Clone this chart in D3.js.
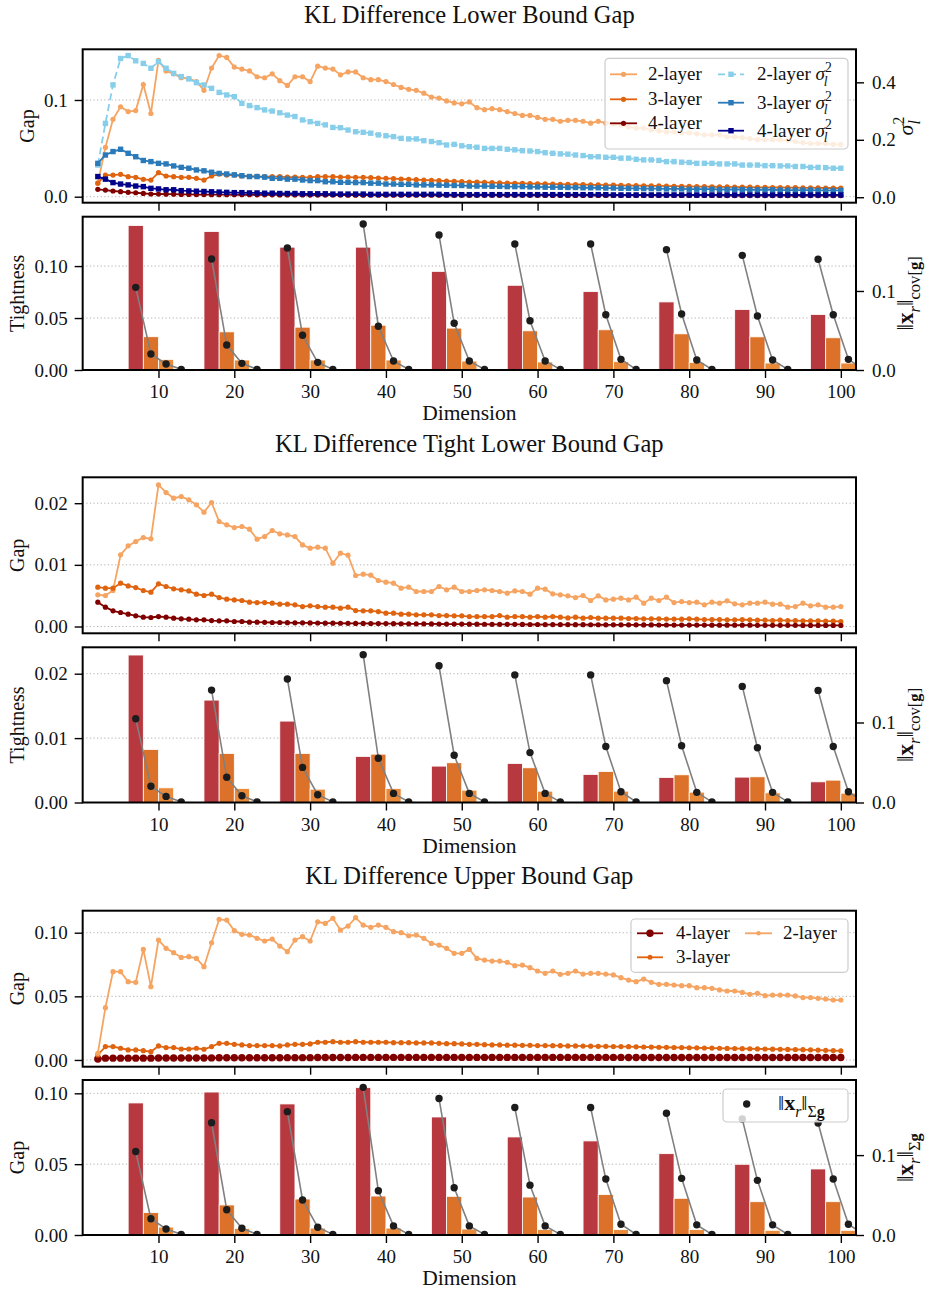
<!DOCTYPE html>
<html>
<head>
<meta charset="utf-8">
<script src="https://cdn.jsdelivr.net/npm/d3@7"></script>
<style>
  body { margin: 0; background: #fff; }
  svg { display: block; }
</style>
</head>
<body>
<div id="chart"></div>
<script>
// ---- data ----
const dims = d3.range(2, 101); // dimensions 2..100
const xTicks = [10, 20, 30, 40, 50, 60, 70, 80, 90, 100];
const barGroups = [10, 20, 30, 40, 50, 60, 70, 80, 90, 100];
const barOffsets = [-3, -1, 1, 3];

// Lower bound gap (rows = dims 2-11, 12-21, ... , 92-100)
const lbGap2 = [
  0.014,0.051,0.080,0.093,0.088,0.089,0.116,0.086,0.141,0.130,
  0.127,0.123,0.122,0.119,0.110,0.133,0.146,0.144,0.134,0.132,
  0.130,0.124,0.123,0.127,0.120,0.115,0.124,0.124,0.119,0.135,
  0.133,0.132,0.126,0.129,0.129,0.123,0.121,0.121,0.119,0.116,
  0.113,0.111,0.110,0.107,0.103,0.102,0.099,0.097,0.096,0.098,
  0.092,0.090,0.091,0.090,0.088,0.086,0.084,0.084,0.082,0.080,
  0.080,0.078,0.079,0.079,0.078,0.076,0.078,0.076,0.075,0.074,
  0.072,0.071,0.071,0.069,0.068,0.067,0.067,0.066,0.066,0.065,
  0.064,0.064,0.064,0.062,0.062,0.061,0.060,0.059,0.059,0.059,
  0.059,0.058,0.057,0.056,0.055,0.055,0.055,0.054,0.054];
const lbGap3 = [
  0.0140,0.0224,0.0224,0.0231,0.0207,0.0200,0.0180,0.0172,0.0248,0.0214,
  0.0207,0.0200,0.0200,0.0190,0.0172,0.0214,0.0234,0.0224,0.0224,0.0214,
  0.0210,0.0210,0.0207,0.0207,0.0207,0.0203,0.0203,0.0200,0.0200,0.0207,
  0.0207,0.0207,0.0203,0.0203,0.0200,0.0200,0.0197,0.0193,0.0190,0.0186,
  0.0183,0.0180,0.0176,0.0172,0.0170,0.0166,0.0162,0.0160,0.0155,0.0152,
  0.0150,0.0148,0.0145,0.0143,0.0141,0.0139,0.0138,0.0136,0.0134,0.0132,
  0.0131,0.0129,0.0128,0.0126,0.0125,0.0123,0.0122,0.0120,0.0119,0.0118,
  0.0116,0.0115,0.0113,0.0112,0.0111,0.0110,0.0108,0.0107,0.0106,0.0105,
  0.0104,0.0103,0.0102,0.0101,0.0100,0.0099,0.0098,0.0097,0.0096,0.0095,
  0.0095,0.0094,0.0093,0.0092,0.0092,0.0091,0.0090,0.0090,0.0089];
const lbGap4 = [
  0.0076,0.0069,0.0059,0.0052,0.0045,0.0041,0.0034,0.0028,0.0028,0.0026,
  0.0026,0.0024,0.0024,0.0022,0.0022,0.0021,0.0021,0.0021,0.0020,0.0020,
  0.0020,0.0019,0.0019,0.0019,0.0018,0.0018,0.0018,0.0018,0.0017,0.0017,
  0.0017,0.0017,0.0017,0.0016,0.0016,0.0016,0.0016,0.0016,0.0016,0.0015,
  0.0015,0.0015,0.0015,0.0015,0.0015,0.0015,0.0015,0.0014,0.0014,0.0014,
  0.0014,0.0014,0.0014,0.0014,0.0014,0.0014,0.0014,0.0014,0.0014,0.0013,
  0.0013,0.0013,0.0013,0.0013,0.0013,0.0013,0.0013,0.0013,0.0013,0.0013,
  0.0013,0.0013,0.0013,0.0013,0.0013,0.0013,0.0013,0.0013,0.0013,0.0013,
  0.0013,0.0013,0.0013,0.0012,0.0012,0.0012,0.0012,0.0012,0.0012,0.0012,
  0.0012,0.0012,0.0012,0.0012,0.0012,0.0012,0.0012,0.0012,0.0012];
// sigma_l^2 (right axis)
const lbVar2 = [
  0.112,0.257,0.391,0.483,0.493,0.475,0.466,0.449,0.472,0.449,
  0.431,0.420,0.412,0.399,0.391,0.379,0.365,0.356,0.350,0.327,
  0.319,0.312,0.304,0.300,0.294,0.286,0.281,0.269,0.263,0.257,
  0.252,0.243,0.242,0.234,0.228,0.226,0.223,0.217,0.214,0.211,
  0.205,0.203,0.203,0.197,0.194,0.190,0.182,0.184,0.179,0.176,
  0.174,0.170,0.170,0.170,0.167,0.165,0.162,0.161,0.159,0.155,
  0.153,0.151,0.150,0.147,0.145,0.141,0.141,0.139,0.139,0.136,
  0.136,0.132,0.130,0.130,0.128,0.124,0.124,0.122,0.121,0.118,
  0.118,0.118,0.116,0.116,0.116,0.112,0.112,0.112,0.110,0.110,
  0.109,0.109,0.107,0.107,0.104,0.104,0.103,0.101,0.101];
const lbVar3 = [
  0.118,0.147,0.159,0.167,0.153,0.141,0.128,0.124,0.118,0.116,
  0.109,0.104,0.101,0.095,0.092,0.087,0.083,0.081,0.078,0.075,
  0.072,0.072,0.070,0.066,0.066,0.063,0.063,0.060,0.058,0.058,
  0.054,0.054,0.052,0.052,0.051,0.051,0.049,0.049,0.046,0.046,
  0.045,0.045,0.043,0.043,0.043,0.042,0.042,0.041,0.041,0.039,
  0.039,0.039,0.038,0.038,0.037,0.037,0.037,0.036,0.036,0.035,
  0.035,0.035,0.034,0.034,0.033,0.033,0.033,0.032,0.032,0.031,
  0.031,0.031,0.030,0.030,0.030,0.029,0.029,0.029,0.028,0.028,
  0.028,0.028,0.027,0.027,0.027,0.027,0.026,0.026,0.026,0.026,
  0.025,0.025,0.025,0.025,0.025,0.024,0.024,0.024,0.024];
const lbVar4 = [
  0.072,0.063,0.051,0.046,0.043,0.039,0.037,0.031,0.029,0.026,
  0.026,0.023,0.022,0.021,0.020,0.019,0.018,0.017,0.016,0.016,
  0.015,0.015,0.014,0.014,0.013,0.013,0.013,0.012,0.012,0.012,
  0.012,0.011,0.011,0.011,0.011,0.011,0.010,0.010,0.010,0.010,
  0.010,0.010,0.010,0.010,0.010,0.010,0.009,0.009,0.009,0.009,
  0.009,0.009,0.009,0.009,0.009,0.009,0.009,0.009,0.009,0.009,
  0.009,0.009,0.009,0.009,0.009,0.009,0.009,0.009,0.008,0.008,
  0.008,0.008,0.008,0.008,0.008,0.008,0.008,0.008,0.008,0.008,
  0.008,0.008,0.008,0.008,0.008,0.008,0.008,0.008,0.008,0.008,
  0.008,0.008,0.008,0.008,0.008,0.008,0.008,0.008,0.008];

// Tight lower bound gap
const tlGap2 = [
  0.00514,0.00503,0.00584,0.01162,0.01308,0.01378,0.01443,0.01422,0.02297,0.02173,
  0.02081,0.02108,0.02054,0.01973,0.01854,0.02011,0.01703,0.01649,0.01605,0.01622,
  0.01578,0.01416,0.01459,0.01557,0.01503,0.01486,0.01459,0.01324,0.01270,0.01286,
  0.01270,0.01027,0.01189,0.01157,0.00827,0.00849,0.00832,0.00746,0.00719,0.00703,
  0.00622,0.00638,0.00568,0.00568,0.00568,0.00649,0.00595,0.00638,0.00568,0.00568,
  0.00584,0.00595,0.00584,0.00568,0.00541,0.00578,0.00568,0.00524,0.00622,0.00605,
  0.00530,0.00514,0.00497,0.00470,0.00503,0.00422,0.00497,0.00432,0.00443,0.00459,
  0.00432,0.00476,0.00378,0.00459,0.00422,0.00476,0.00389,0.00405,0.00389,0.00395,
  0.00351,0.00395,0.00378,0.00416,0.00368,0.00351,0.00378,0.00378,0.00395,0.00362,
  0.00362,0.00314,0.00324,0.00378,0.00335,0.00351,0.00314,0.00314,0.00324];
const tlGap3 = [
  0.00638,0.00622,0.00622,0.00703,0.00659,0.00632,0.00584,0.00557,0.00692,0.00649,
  0.00611,0.00595,0.00578,0.00524,0.00503,0.00524,0.00470,0.00443,0.00432,0.00422,
  0.00395,0.00389,0.00389,0.00378,0.00362,0.00362,0.00351,0.00324,0.00335,0.00324,
  0.00314,0.00314,0.00297,0.00314,0.00259,0.00254,0.00254,0.00243,0.00216,0.00216,
  0.00200,0.00200,0.00189,0.00189,0.00189,0.00178,0.00178,0.00173,0.00173,0.00162,
  0.00162,0.00162,0.00162,0.00178,0.00151,0.00162,0.00162,0.00151,0.00162,0.00151,
  0.00162,0.00151,0.00140,0.00151,0.00135,0.00146,0.00135,0.00135,0.00135,0.00135,
  0.00130,0.00130,0.00124,0.00124,0.00124,0.00120,0.00120,0.00119,0.00124,0.00119,
  0.00113,0.00113,0.00113,0.00108,0.00108,0.00113,0.00108,0.00103,0.00103,0.00097,
  0.00103,0.00097,0.00097,0.00092,0.00092,0.00092,0.00086,0.00086,0.00081];
const tlGap4 = [
  0.00395,0.00314,0.00254,0.00227,0.00200,0.00173,0.00151,0.00146,0.00162,0.00151,
  0.00135,0.00124,0.00119,0.00108,0.00108,0.00097,0.00092,0.00092,0.00081,0.00081,
  0.00070,0.00070,0.00068,0.00065,0.00065,0.00062,0.00060,0.00060,0.00058,0.00057,
  0.00055,0.00054,0.00053,0.00052,0.00050,0.00050,0.00049,0.00048,0.00047,0.00046,
  0.00045,0.00044,0.00043,0.00043,0.00042,0.00041,0.00040,0.00040,0.00039,0.00038,
  0.00038,0.00037,0.00036,0.00036,0.00035,0.00035,0.00034,0.00033,0.00033,0.00032,
  0.00032,0.00031,0.00031,0.00030,0.00030,0.00029,0.00029,0.00028,0.00028,0.00027,
  0.00027,0.00027,0.00026,0.00026,0.00025,0.00025,0.00024,0.00024,0.00024,0.00023,
  0.00023,0.00022,0.00022,0.00022,0.00021,0.00021,0.00021,0.00020,0.00020,0.00020,
  0.00019,0.00019,0.00019,0.00018,0.00018,0.00018,0.00017,0.00017,0.00017];

// Upper bound gap
const ubGap2 = [
  0.0052,0.0411,0.0694,0.0694,0.0615,0.0610,0.0869,0.0576,0.0942,0.0877,
  0.0843,0.0806,0.0812,0.0798,0.0733,0.0921,0.1105,0.1099,0.1016,0.0987,
  0.0982,0.0956,0.0935,0.0950,0.0895,0.0851,0.0942,0.0969,0.0935,0.1086,
  0.1073,0.1113,0.1021,0.1052,0.1118,0.1060,0.1042,0.1060,0.1042,0.1008,
  0.1000,0.0976,0.0982,0.0956,0.0916,0.0903,0.0877,0.0838,0.0838,0.0869,
  0.0798,0.0785,0.0777,0.0777,0.0767,0.0741,0.0746,0.0725,0.0699,0.0681,
  0.0699,0.0673,0.0681,0.0699,0.0675,0.0681,0.0681,0.0675,0.0668,0.0647,
  0.0628,0.0615,0.0636,0.0610,0.0594,0.0594,0.0589,0.0584,0.0584,0.0568,
  0.0568,0.0563,0.0550,0.0542,0.0542,0.0531,0.0516,0.0524,0.0505,0.0510,
  0.0510,0.0510,0.0503,0.0490,0.0490,0.0484,0.0479,0.0471,0.0471];
const ubGap3 = [
  0.0039,0.0105,0.0105,0.0092,0.0079,0.0079,0.0073,0.0065,0.0110,0.0097,
  0.0097,0.0086,0.0086,0.0092,0.0084,0.0105,0.0131,0.0131,0.0123,0.0118,
  0.0113,0.0113,0.0113,0.0113,0.0110,0.0118,0.0123,0.0123,0.0126,0.0139,
  0.0139,0.0144,0.0139,0.0139,0.0144,0.0139,0.0139,0.0139,0.0139,0.0136,
  0.0136,0.0136,0.0134,0.0134,0.0134,0.0131,0.0128,0.0128,0.0126,0.0123,
  0.0123,0.0120,0.0118,0.0118,0.0116,0.0116,0.0115,0.0115,0.0113,0.0113,
  0.0112,0.0112,0.0110,0.0110,0.0109,0.0108,0.0107,0.0107,0.0105,0.0105,
  0.0104,0.0103,0.0102,0.0101,0.0100,0.0099,0.0098,0.0097,0.0096,0.0095,
  0.0094,0.0093,0.0092,0.0091,0.0090,0.0089,0.0088,0.0087,0.0086,0.0085,
  0.0084,0.0083,0.0082,0.0081,0.0080,0.0078,0.0076,0.0074,0.0072];
const ubGap4 = [
  0.0008,0.0014,0.0014,0.0014,0.0014,0.0014,0.0014,0.0014,0.0015,0.0015,
  0.0015,0.0015,0.0015,0.0015,0.0015,0.0016,0.0017,0.0017,0.0017,0.0017,
  0.0017,0.0017,0.0017,0.0017,0.0017,0.0018,0.0018,0.0018,0.0018,0.0019,
  0.0019,0.0019,0.0019,0.0019,0.0020,0.0020,0.0020,0.0020,0.0020,0.0020,
  0.0020,0.0020,0.0020,0.0020,0.0020,0.0020,0.0020,0.0020,0.0020,0.0020,
  0.0020,0.0020,0.0020,0.0020,0.0020,0.0020,0.0020,0.0020,0.0020,0.0020,
  0.0020,0.0020,0.0020,0.0020,0.0020,0.0020,0.0020,0.0020,0.0020,0.0020,
  0.0019,0.0019,0.0019,0.0019,0.0019,0.0019,0.0019,0.0019,0.0019,0.0019,
  0.0019,0.0019,0.0019,0.0019,0.0019,0.0019,0.0019,0.0019,0.0019,0.0019,
  0.0019,0.0019,0.0019,0.0019,0.0019,0.0019,0.0019,0.0019,0.0019];

// Tightness bars, one array per component (offset -3, -1, +1, +3 around each group)
const lbBars = [
  [0.1390,0.1332,0.1182,0.1182,0.0949,0.0815,0.0754,0.0655,0.0581,0.0534],
  [0.0320,0.0367,0.0412,0.0431,0.0403,0.0377,0.0387,0.0348,0.0319,0.0310],
  [0.0102,0.0096,0.0096,0.0096,0.0086,0.0077,0.0080,0.0073,0.0067,0.0067],
  [0.0008,0.0007,0.0007,0.0007,0.0006,0.0006,0.0006,0.0005,0.0005,0.0005]];
const tlBars = [
  [0.02290,0.01590,0.01264,0.00715,0.00565,0.00606,0.00435,0.00389,0.00394,0.00321],
  [0.00824,0.00762,0.00762,0.00751,0.00617,0.00539,0.00482,0.00430,0.00399,0.00347],
  [0.00228,0.00218,0.00207,0.00218,0.00192,0.00176,0.00176,0.00161,0.00150,0.00145],
  [0.00012,0.00010,0.00010,0.00010,0.00009,0.00009,0.00008,0.00008,0.00008,0.00007]];
const ubBars = [
  [0.0932,0.1009,0.0925,0.1040,0.0833,0.0692,0.0664,0.0574,0.0499,0.0466],
  [0.0158,0.0212,0.0254,0.0275,0.0273,0.0268,0.0285,0.0259,0.0235,0.0235],
  [0.0056,0.0047,0.0049,0.0049,0.0042,0.0038,0.0038,0.0038,0.0033,0.0033],
  [0.0005,0.0005,0.0005,0.0005,0.0004,0.0004,0.0004,0.0004,0.0004,0.0004]];
// ||x_r|| norms (right axis of bar panels)
const normDots = [
  [0.1046,0.1405,0.1544,0.1848,0.1709,0.1595,0.1595,0.1523,0.1451,0.1401],
  [0.0203,0.0316,0.0439,0.0553,0.0591,0.0624,0.0700,0.0709,0.0684,0.0700],
  [0.0076,0.0084,0.0097,0.0114,0.0114,0.0114,0.0135,0.0127,0.0127,0.0135],
  [0.0008,0.0008,0.0008,0.0008,0.0008,0.0008,0.0008,0.0008,0.0008,0.0008]];

// ---- styles ----
const FONT = "'Liberation Serif', 'Times New Roman', serif";
const C2 = "#f5a462", C3 = "#e0640f", C4 = "#800000";
const V2 = "#87ceeb", V3 = "#2a7ab9", V4 = "#00008b";
const barColors = ["#b8383f", "#dc7229", "#e88a3a", "#f0a862"];

const W = 929, H = 1294;
const x = d3.scaleLinear().domain([0, 102]).range([82.67, 856]);
const X0 = x.range()[0], X1 = x.range()[1];

const svg = d3.select("#chart").append("svg")
  .attr("width", W).attr("height", H)
  .style("font-family", FONT);

// math-ish labels made of tspans
const SIGMA = [{t:"σ",it:1},{t:"2",sup:1},{t:"l",it:1,sub:1,dx:-8}];
const NORM_COV = [{t:"‖"},{t:"x",bf:1},{t:"r",it:1,sub:1},{t:"‖"},{t:"cov[",sub:1},{t:"g",bf:1,sub:1},{t:"]",sub:1}];
const NORM_SIG = [{t:"‖"},{t:"x",bf:1},{t:"r",it:1,sub:1},{t:"‖"},{t:"Σ",sub:1},{t:"g",bf:1,sub:1}];

function mathText(sel, parts, size) {
  let shift = 0;
  parts.forEach(p => {
    const s = p.sub ? size * 0.3 : p.sup ? -size * 0.42 : 0;
    const ts = sel.append("tspan").text(p.t)
      .attr("font-size", (p.sub || p.sup) ? size * 0.72 : size)
      .attr("dy", s - shift);
    if (p.it) ts.attr("font-style", "italic");
    if (p.bf) ts.attr("font-weight", "bold");
    if (p.dx) ts.attr("dx", p.dx);
    shift = s;
  });
}

let clipId = 0;
function makeClip(top, bottom) {
  const id = "clip" + (clipId++);
  svg.append("clipPath").attr("id", id).append("rect")
    .attr("x", X0).attr("y", top).attr("width", X1 - X0).attr("height", bottom - top);
  return "url(#" + id + ")";
}

function styleAxis(g) {
  g.attr("font-family", FONT).attr("font-size", 19);
  g.select(".domain").remove();
  g.selectAll(".tick line").attr("stroke", "#000").attr("stroke-width", 1.4);
  g.selectAll(".tick text").attr("fill", "#111");
}

function grid(top, bottom, y, ticks) {
  svg.append("g").selectAll("line").data(ticks).join("line")
    .attr("x1", X0).attr("x2", X1)
    .attr("y1", d => y(d)).attr("y2", d => y(d))
    .attr("stroke", "#b0b0b0").attr("stroke-width", 1)
    .attr("stroke-dasharray", "1.2,2.4");
}

function frame(top, bottom) {
  svg.append("rect").attr("x", X0).attr("y", top)
    .attr("width", X1 - X0).attr("height", bottom - top)
    .attr("fill", "none").attr("stroke", "#000").attr("stroke-width", 2);
}

function xAxis(bottom, labels) {
  svg.append("g").attr("transform", `translate(0,${bottom})`)
    .call(d3.axisBottom(x).tickValues(xTicks).tickSize(8).tickPadding(7)
      .tickFormat(labels ? d3.format("d") : () => ""))
    .call(styleAxis);
}

function leftAxis(y, ticks, fmt) {
  svg.append("g").attr("transform", `translate(${X0},0)`)
    .call(d3.axisLeft(y).tickValues(ticks).tickSize(8).tickPadding(7).tickFormat(d3.format(fmt)))
    .call(styleAxis);
}

function rightAxis(y, ticks, fmt) {
  svg.append("g").attr("transform", `translate(${X1},0)`)
    .call(d3.axisRight(y).tickValues(ticks).tickSize(8).tickPadding(8).tickFormat(d3.format(fmt)))
    .call(styleAxis);
}

function yLabel(xPos, cy, content, size) {
  const t = svg.append("text")
    .attr("transform", `translate(${xPos},${cy}) rotate(-90)`)
    .attr("text-anchor", "middle").attr("font-size", size || 20).attr("fill", "#111");
  if (typeof content === "string") t.text(content);
  else mathText(t, content, size || 20);
}

function drawSeries(g, s, y) {
  const line = d3.line().x((d, i) => x(dims[i])).y(d => y(d));
  const sg = g.append("g");
  sg.append("path").datum(s.values).attr("d", line)
    .attr("fill", "none").attr("stroke", s.color).attr("stroke-width", 1.8)
    .attr("stroke-dasharray", s.dash || null);
  if (s.marker === "square") {
    sg.selectAll("rect").data(s.values).join("rect")
      .attr("x", (d, i) => x(dims[i]) - 2.7).attr("y", d => y(d) - 2.7)
      .attr("width", 5.4).attr("height", 5.4).attr("fill", s.color);
  } else {
    sg.selectAll("circle").data(s.values).join("circle")
      .attr("cx", (d, i) => x(dims[i])).attr("cy", d => y(d))
      .attr("r", s.r || 2.6).attr("fill", s.color);
  }
}

function legendHandle(g, x0, x1, yc, s) {
  g.append("line").attr("x1", x0).attr("x2", x1).attr("y1", yc).attr("y2", yc)
    .attr("stroke", s.color).attr("stroke-width", 1.8).attr("stroke-dasharray", s.dash || null);
  const xm = (x0 + x1) / 2;
  if (s.marker === "square") {
    g.append("rect").attr("x", xm - 2.7).attr("y", yc - 2.7).attr("width", 5.4).attr("height", 5.4).attr("fill", s.color);
  } else {
    g.append("circle").attr("cx", xm).attr("cy", yc).attr("r", s.lr || 2.6).attr("fill", s.color);
  }
}

function legendBox(x0, y0, x1, y1) {
  const g = svg.append("g");
  g.append("rect").attr("x", x0).attr("y", y0).attr("width", x1 - x0).attr("height", y1 - y0)
    .attr("rx", 4).attr("fill", "#fff").attr("fill-opacity", 0.8)
    .attr("stroke", "#cccccc").attr("stroke-width", 1.2);
  return g;
}

function legendText(g, xPos, yc, label, parts) {
  const t = g.append("text").attr("x", xPos).attr("y", yc + 6).attr("font-size", 19).attr("fill", "#111").text(label);
  if (parts) mathText(t, parts, 19);
}

// ---- panels ----
function linePanel(p) {
  const y = d3.scaleLinear().domain(p.dom).range([p.bottom, p.top]);
  grid(p.top, p.bottom, y, p.ticks);
  const g = svg.append("g").attr("clip-path", makeClip(p.top, p.bottom));
  p.series.forEach(s => drawSeries(g, s, y));
  if (p.right) {
    const yR = d3.scaleLinear().domain(p.right.dom).range([p.bottom, p.top]);
    p.right.series.forEach(s => drawSeries(g, s, yR));
    rightAxis(yR, p.right.ticks, ".1f");
    yLabel(p.right.labelX, (p.top + p.bottom) / 2, SIGMA, 22);
  }
  xAxis(p.bottom, false);
  leftAxis(y, p.ticks, p.fmt);
  frame(p.top, p.bottom);
  yLabel(p.labelX, (p.top + p.bottom) / 2, p.label);
  svg.append("text").attr("x", (X0 + X1) / 2).attr("y", p.titleY)
    .attr("text-anchor", "middle").attr("font-size", 24.5).attr("fill", "#111").text(p.title);
}

function barPanel(p) {
  const y = d3.scaleLinear().domain(p.dom).range([p.bottom, p.top]);
  const yR = d3.scaleLinear().domain([0, 0.194]).range([p.bottom, p.top]);
  grid(p.top, p.bottom, y, p.ticks);
  const g = svg.append("g").attr("clip-path", makeClip(p.top, p.bottom));
  const bw = x(2) - x(0);
  p.bars.forEach((vals, k) => {
    g.append("g").selectAll("rect").data(vals).join("rect")
      .attr("x", (d, i) => x(barGroups[i] + barOffsets[k] - 1))
      .attr("y", d => y(d))
      .attr("width", bw)
      .attr("height", d => p.bottom - y(d))
      .attr("fill", barColors[k])
      .attr("stroke", "#fff").attr("stroke-width", 0.8);
  });
  const dotLine = d3.line().x(d => x(d[0])).y(d => yR(d[1]));
  barGroups.forEach((gd, i) => {
    const pts = barOffsets.map((o, k) => [gd + o, normDots[k][i]]);
    g.append("path").datum(pts).attr("d", dotLine)
      .attr("fill", "none").attr("stroke", "#808080").attr("stroke-width", 1.6);
    g.selectAll(null).data(pts).join("circle")
      .attr("cx", d => x(d[0])).attr("cy", d => yR(d[1]))
      .attr("r", 3.7).attr("fill", "#1c1c1c");
  });
  xAxis(p.bottom, true);
  leftAxis(y, p.ticks, p.fmt);
  rightAxis(yR, [0, 0.1], ".1f");
  frame(p.top, p.bottom);
  yLabel(24, (p.top + p.bottom) / 2, p.label);
  yLabel(913, (p.top + p.bottom) / 2, p.rlabel, 23);
  svg.append("text").attr("x", (X0 + X1) / 2).attr("y", p.bottom + 50)
    .attr("text-anchor", "middle").attr("font-size", 21.5).attr("fill", "#111").text("Dimension");
}

// series definitions
const s2 = {values: lbGap2, color: C2}, s3 = {values: lbGap3, color: C3}, s4 = {values: lbGap4, color: C4};
const v2 = {values: lbVar2, color: V2, marker: "square", dash: "7,4"};
const v3 = {values: lbVar3, color: V3, marker: "square"};
const v4 = {values: lbVar4, color: V4, marker: "square"};

// Panel 1: lower bound
linePanel({
  title: "KL Difference Lower Bound Gap", titleY: 23,
  top: 49.3, bottom: 202.7, dom: [-0.0062, 0.1524], ticks: [0, 0.1], fmt: ".1f",
  label: "Gap", labelX: 34,
  series: [s2, s3, s4],
  right: {dom: [-0.019, 0.515], ticks: [0, 0.2, 0.4], series: [v2, v3, v4], labelX: 913}
});
{
  const lg = legendBox(605, 58.3, 848, 149);
  [[s2, "2-layer", 74.3], [s3, "3-layer", 99.3], [s4, "4-layer", 123.3]].forEach(([s, t, yc]) => {
    legendHandle(lg, 610, 637, yc, s);
    legendText(lg, 648, yc, t);
  });
  [[v2, "2-layer ", 74.3], [v3, "3-layer ", 102.7], [v4, "4-layer ", 130.7]].forEach(([s, t, yc]) => {
    legendHandle(lg, 718, 744, yc, s);
    legendText(lg, 757, yc, t, SIGMA);
  });
}
barPanel({
  top: 216.7, bottom: 370, dom: [0, 0.1475], ticks: [0, 0.05, 0.10], fmt: ".2f",
  bars: lbBars, label: "Tightness", rlabel: NORM_COV
});

// Panel 2: tight lower bound
linePanel({
  title: "KL Difference Tight Lower Bound Gap", titleY: 452,
  top: 477.3, bottom: 633.3, dom: [-0.0011, 0.0242], ticks: [0, 0.01, 0.02], fmt: ".2f",
  label: "Gap", labelX: 24,
  series: [{values: tlGap2, color: C2}, {values: tlGap3, color: C3}, {values: tlGap4, color: C4}]
});
barPanel({
  top: 647.3, bottom: 802.5, dom: [0, 0.0241], ticks: [0, 0.01, 0.02], fmt: ".2f",
  bars: tlBars, label: "Tightness", rlabel: NORM_COV
});

// Panel 3: upper bound
const u4 = {values: ubGap4, color: C4, r: 3.7, lr: 3.7};
const u3 = {values: ubGap3, color: C3, lr: 2.5};
const u2 = {values: ubGap2, color: C2, lr: 2.2};
linePanel({
  title: "KL Difference Upper Bound Gap", titleY: 884,
  top: 910.7, bottom: 1066.7, dom: [-0.0053, 0.1173], ticks: [0, 0.05, 0.10], fmt: ".2f",
  label: "Gap", labelX: 24,
  series: [u4, u3, u2]
});
{
  const lg = legendBox(631, 919, 848, 972.3);
  legendHandle(lg, 637, 663, 933.3, u4); legendText(lg, 676, 933.3, "4-layer");
  legendHandle(lg, 637, 663, 957.3, u3); legendText(lg, 676, 957.3, "3-layer");
  legendHandle(lg, 745, 772, 933.3, u2); legendText(lg, 783, 933.3, "2-layer");
}
barPanel({
  top: 1080, bottom: 1235, dom: [0, 0.1094], ticks: [0, 0.05, 0.10], fmt: ".2f",
  bars: ubBars, label: "Gap", rlabel: NORM_SIG
});
{
  const lg = legendBox(723, 1089, 848, 1122);
  lg.append("circle").attr("cx", 746.7).attr("cy", 1104).attr("r", 3.7).attr("fill", "#1c1c1c");
  const t = lg.append("text").attr("x", 778).attr("y", 1110).attr("fill", "#111");
  mathText(t, NORM_SIG, 22);
}
</script>
</body>
</html>
